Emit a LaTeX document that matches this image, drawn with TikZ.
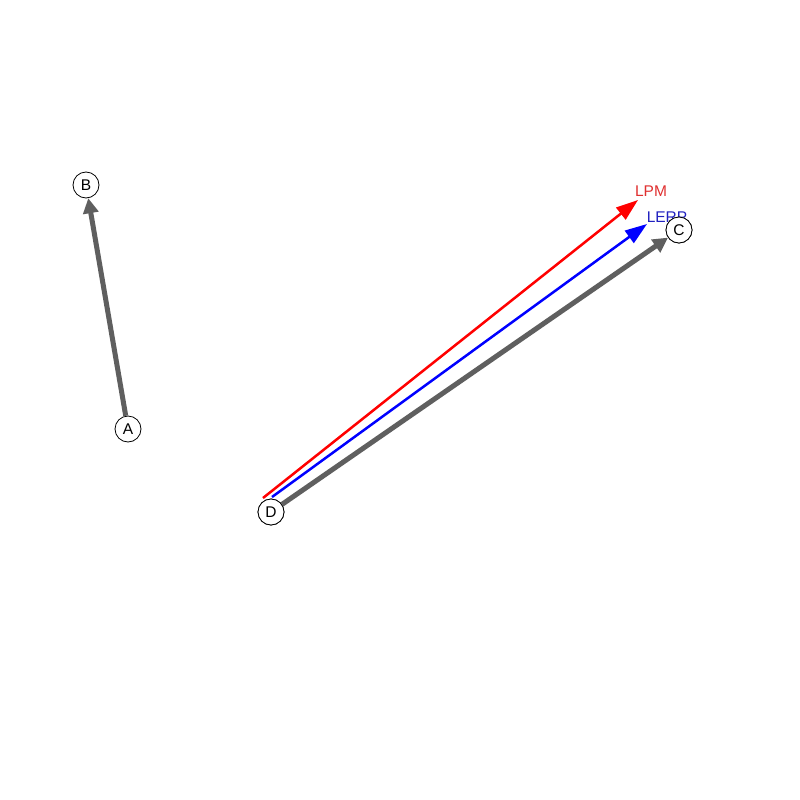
\documentclass[tikz,border=0pt]{standalone}
\usepackage{fontspec}
\setmainfont{Liberation Sans}
\usetikzlibrary{arrows.meta}
\definecolor{edgegray}{HTML}{5F5F5F}
\definecolor{lpmred}{HTML}{FF0000}
\definecolor{lerpblue}{HTML}{0000FF}
\definecolor{lpmtext}{HTML}{E03030}
\definecolor{lerptext}{HTML}{2020C0}
\tikzset{
  vertex/.style={circle,draw=black,line width=0.8pt,fill=white,minimum size=26pt,inner sep=0pt,font=\fontsize{15.5}{15.5}\selectfont},
  graphedge/.style={draw=edgegray,line width=5pt,-{Triangle[length=15pt,width=15pt]}},
  vecarrow/.style={line width=2.5pt,-{Triangle[length=22pt,width=15pt]}},
  veclabel/.style={font=\fontsize{15.5}{15.5}\selectfont,inner sep=0pt}
}
\begin{document}
\begin{tikzpicture}[x=1pt,y=-1pt]
\useasboundingbox (0,0) rectangle (800,800);
\fill[white] (0,0) rectangle (800,800);
\node[vertex] (B) at (86,185) {B};
\node[vertex] (A) at (128,429) {A};
\node[vertex] (D) at (271,512) {D};
\node[vertex] (C) at (679,230) {C};
\coordinate (rs) at (263,498);
\coordinate (re) at (638,200);
\coordinate (bs) at (272,497);
\coordinate (be) at (647,224);
\draw[vecarrow,draw=lpmred,fill=lpmred] (rs) -- (re);
\draw[vecarrow,draw=lerpblue,fill=lerpblue] (bs) -- (be);
\draw[graphedge] (A) -- (B);
\draw[graphedge] (D) -- (C);
\node[vertex] at (D) {D};
\node[veclabel,text=lpmtext] (lpm) at (651,191) {LPM};
\node[veclabel,text=lerptext] (lerp) at (667,217) {LERP};
\node[vertex] at (C) {C};
\end{tikzpicture}
\end{document}
